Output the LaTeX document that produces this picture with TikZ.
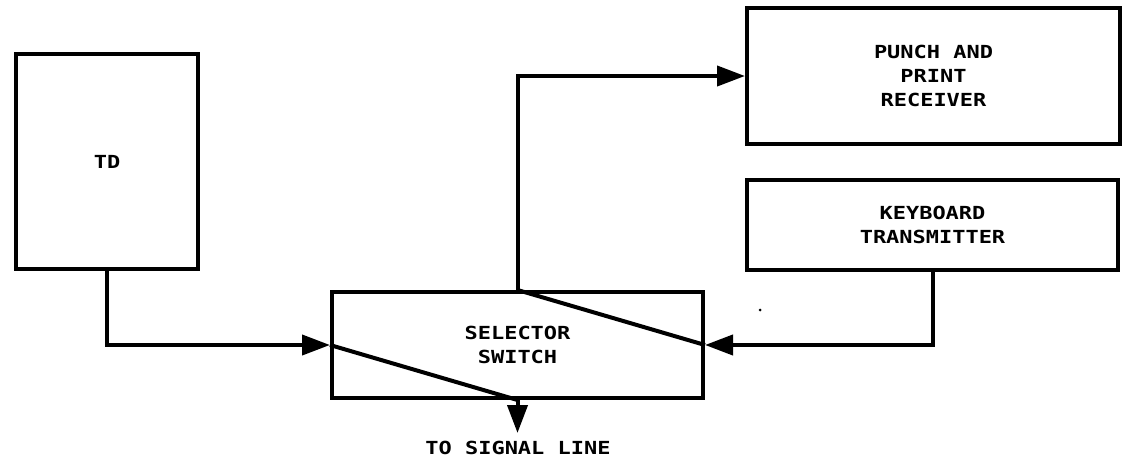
\documentclass[tikz,border=0pt]{standalone}
\usepackage{fontspec}
\newfontfamily\lettering{DejaVu Sans Mono}[FakeStretch=1.22]
\usetikzlibrary{arrows.meta}
\begin{document}
\begin{tikzpicture}[x=1pt,y=-1pt,
  txt/.style={font=\lettering\fontsize{18}{24}\selectfont\bfseries},
  blk/.style={txt,draw,line width=4pt,rectangle,align=center,inner sep=0pt},
  wire/.style={line width=4pt},
  arr/.style={wire,-{Triangle[length=28pt,width=20pt]}}]
\useasboundingbox (0,0) rectangle (1127,466);
\node[blk,minimum width=182pt,minimum height=215pt] (td) at (107,161.5) {TD};
\node[blk,minimum width=373pt,minimum height=136pt] (punch) at (933.5,76)
  {PUNCH AND\\PRINT\\RECEIVER};
\node[blk,minimum width=371pt,minimum height=90pt] (kb) at (932.5,225)
  {KEYBOARD\\TRANSMITTER};
\node[blk,minimum width=371pt,minimum height=106pt] (sel) at (517.5,345)
  {SELECTOR\\SWITCH};
\coordinate (sig) at (517.5,433);
\node[txt] (siglabel) at (518,448) {TO SIGNAL LINE};
\draw[arr] (td.south) |- (sel.west);
\draw[arr] (sel.north) |- (punch.west);
\draw[arr] (kb.south) |- (sel.east);
\draw[arr] (sel.south) -- (sig);
\draw[wire] (sel.north) -- (sel.east);
\draw[wire] (sel.west) -- (sel.south);
\fill (760,310) circle (1.5pt);
\end{tikzpicture}
\end{document}
